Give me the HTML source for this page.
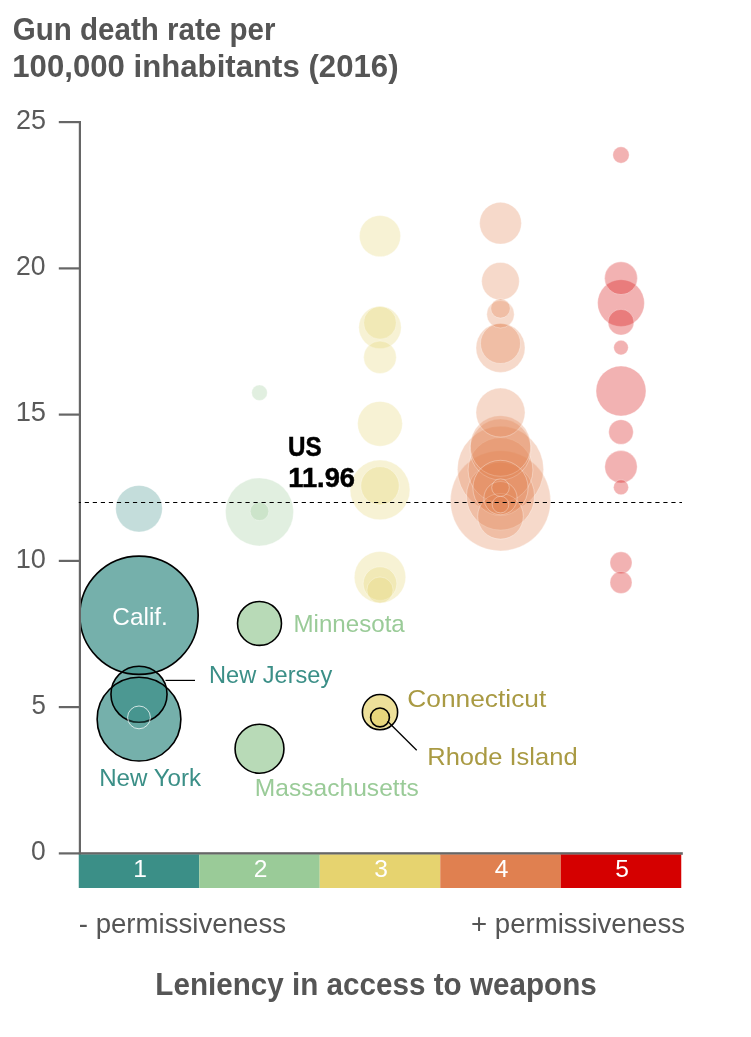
<!DOCTYPE html>
<html lang="en"><head><meta charset="utf-8"><title>Gun death rate per 100,000 inhabitants (2016)</title>
<style>
html,body{margin:0;padding:0;background:#fff}
svg{display:block}
text{font-family:"Liberation Sans",sans-serif}
.b{font-weight:bold}
</style></head><body>
<svg width="751" height="1037" viewBox="0 0 751 1037">
<rect width="751" height="1037" fill="#fff"/>
<text class="b" x="12.75" y="39.60" font-size="31.1" fill="#555" textLength="262.76" lengthAdjust="spacingAndGlyphs">Gun death rate per</text>
<text class="b" x="12.25" y="77.40" font-size="31.1" fill="#555" textLength="386.28" lengthAdjust="spacingAndGlyphs">100,000 inhabitants (2016)</text>
<circle cx="500.5" cy="500.8" r="50.1" fill="#e08050" fill-opacity="0.3" stroke="#fff" stroke-opacity="0.55" stroke-width="0.6"/>
<circle cx="500.5" cy="469.4" r="43.1" fill="#e08050" fill-opacity="0.3" stroke="#fff" stroke-opacity="0.55" stroke-width="0.6"/>
<circle cx="259.5" cy="511.9" r="34.0" fill="#9acb98" fill-opacity="0.3" stroke="#fff" stroke-opacity="0.55" stroke-width="0.6"/>
<circle cx="500.5" cy="496.1" r="34.0" fill="#e08050" fill-opacity="0.3" stroke="#fff" stroke-opacity="0.55" stroke-width="0.6"/>
<circle cx="500.5" cy="470.0" r="32.4" fill="#e08050" fill-opacity="0.3" stroke="#fff" stroke-opacity="0.55" stroke-width="0.6"/>
<circle cx="500.5" cy="449.5" r="30.5" fill="#e08050" fill-opacity="0.3" stroke="#fff" stroke-opacity="0.55" stroke-width="0.6"/>
<circle cx="500.5" cy="446.0" r="30.3" fill="#e08050" fill-opacity="0.3" stroke="#fff" stroke-opacity="0.55" stroke-width="0.6"/>
<circle cx="380.0" cy="489.9" r="29.9" fill="#e6d36f" fill-opacity="0.3" stroke="#fff" stroke-opacity="0.55" stroke-width="0.6"/>
<circle cx="500.5" cy="487.9" r="27.6" fill="#e08050" fill-opacity="0.3" stroke="#fff" stroke-opacity="0.55" stroke-width="0.6"/>
<circle cx="380.0" cy="577.2" r="25.7" fill="#e6d36f" fill-opacity="0.3" stroke="#fff" stroke-opacity="0.55" stroke-width="0.6"/>
<circle cx="621.0" cy="391.0" r="25.0" fill="#d50000" fill-opacity="0.3" stroke="#fff" stroke-opacity="0.55" stroke-width="0.6"/>
<circle cx="500.5" cy="347.9" r="24.5" fill="#e08050" fill-opacity="0.3" stroke="#fff" stroke-opacity="0.55" stroke-width="0.6"/>
<circle cx="500.5" cy="412.6" r="24.5" fill="#e08050" fill-opacity="0.3" stroke="#fff" stroke-opacity="0.55" stroke-width="0.6"/>
<circle cx="621.0" cy="303.1" r="23.4" fill="#d50000" fill-opacity="0.3" stroke="#fff" stroke-opacity="0.55" stroke-width="0.6"/>
<circle cx="139.0" cy="508.7" r="23.3" fill="#3b8f87" fill-opacity="0.3" stroke="#fff" stroke-opacity="0.55" stroke-width="0.6"/>
<circle cx="500.5" cy="516.3" r="22.8" fill="#e08050" fill-opacity="0.3" stroke="#fff" stroke-opacity="0.55" stroke-width="0.6"/>
<circle cx="380.0" cy="423.8" r="22.4" fill="#e6d36f" fill-opacity="0.3" stroke="#fff" stroke-opacity="0.55" stroke-width="0.6"/>
<circle cx="380.0" cy="327.4" r="21.2" fill="#e6d36f" fill-opacity="0.3" stroke="#fff" stroke-opacity="0.55" stroke-width="0.6"/>
<circle cx="500.5" cy="223.2" r="20.9" fill="#e08050" fill-opacity="0.3" stroke="#fff" stroke-opacity="0.55" stroke-width="0.6"/>
<circle cx="380.0" cy="236.1" r="20.6" fill="#e6d36f" fill-opacity="0.3" stroke="#fff" stroke-opacity="0.55" stroke-width="0.6"/>
<circle cx="500.5" cy="343.5" r="20.0" fill="#e08050" fill-opacity="0.3" stroke="#fff" stroke-opacity="0.55" stroke-width="0.6"/>
<circle cx="380.0" cy="485.8" r="19.2" fill="#e6d36f" fill-opacity="0.3" stroke="#fff" stroke-opacity="0.55" stroke-width="0.6"/>
<circle cx="500.5" cy="281.2" r="18.8" fill="#e08050" fill-opacity="0.3" stroke="#fff" stroke-opacity="0.55" stroke-width="0.6"/>
<circle cx="380.0" cy="583.6" r="16.8" fill="#e6d36f" fill-opacity="0.3" stroke="#fff" stroke-opacity="0.55" stroke-width="0.6"/>
<circle cx="500.5" cy="498.1" r="16.6" fill="#e08050" fill-opacity="0.3" stroke="#fff" stroke-opacity="0.55" stroke-width="0.6"/>
<circle cx="380.0" cy="322.8" r="16.4" fill="#e6d36f" fill-opacity="0.3" stroke="#fff" stroke-opacity="0.55" stroke-width="0.6"/>
<circle cx="621.0" cy="278.2" r="16.4" fill="#d50000" fill-opacity="0.3" stroke="#fff" stroke-opacity="0.55" stroke-width="0.6"/>
<circle cx="380.0" cy="357.3" r="16.3" fill="#e6d36f" fill-opacity="0.3" stroke="#fff" stroke-opacity="0.55" stroke-width="0.6"/>
<circle cx="621.0" cy="466.8" r="16.2" fill="#d50000" fill-opacity="0.3" stroke="#fff" stroke-opacity="0.55" stroke-width="0.6"/>
<circle cx="500.5" cy="314.3" r="13.7" fill="#e08050" fill-opacity="0.3" stroke="#fff" stroke-opacity="0.55" stroke-width="0.6"/>
<circle cx="380.0" cy="590.1" r="13.1" fill="#e6d36f" fill-opacity="0.3" stroke="#fff" stroke-opacity="0.55" stroke-width="0.6"/>
<circle cx="621.0" cy="322.2" r="12.9" fill="#d50000" fill-opacity="0.3" stroke="#fff" stroke-opacity="0.55" stroke-width="0.6"/>
<circle cx="621.0" cy="432.0" r="12.3" fill="#d50000" fill-opacity="0.3" stroke="#fff" stroke-opacity="0.55" stroke-width="0.6"/>
<circle cx="621.0" cy="562.8" r="11.0" fill="#d50000" fill-opacity="0.3" stroke="#fff" stroke-opacity="0.55" stroke-width="0.6"/>
<circle cx="621.0" cy="582.5" r="11.0" fill="#d50000" fill-opacity="0.3" stroke="#fff" stroke-opacity="0.55" stroke-width="0.6"/>
<circle cx="500.5" cy="308.4" r="9.7" fill="#e08050" fill-opacity="0.3" stroke="#fff" stroke-opacity="0.55" stroke-width="0.6"/>
<circle cx="259.5" cy="511.3" r="9.3" fill="#9acb98" fill-opacity="0.3" stroke="#fff" stroke-opacity="0.55" stroke-width="0.6"/>
<circle cx="500.5" cy="487.6" r="8.8" fill="#e08050" fill-opacity="0.3" stroke="#fff" stroke-opacity="0.55" stroke-width="0.6"/>
<circle cx="500.5" cy="504.6" r="8.3" fill="#e08050" fill-opacity="0.3" stroke="#fff" stroke-opacity="0.55" stroke-width="0.6"/>
<circle cx="621.0" cy="155.0" r="8.2" fill="#d50000" fill-opacity="0.3" stroke="#fff" stroke-opacity="0.55" stroke-width="0.6"/>
<circle cx="259.5" cy="392.7" r="7.8" fill="#9acb98" fill-opacity="0.3" stroke="#fff" stroke-opacity="0.55" stroke-width="0.6"/>
<circle cx="621.0" cy="487.3" r="7.5" fill="#d50000" fill-opacity="0.3" stroke="#fff" stroke-opacity="0.55" stroke-width="0.6"/>
<circle cx="621.0" cy="347.6" r="7.3" fill="#d50000" fill-opacity="0.3" stroke="#fff" stroke-opacity="0.55" stroke-width="0.6"/>
<circle cx="139.0" cy="615.25" r="59.17" fill="#3b8f87" fill-opacity="0.7"/>
<circle cx="139.0" cy="719.15" r="41.87" fill="#3b8f87" fill-opacity="0.7"/>
<circle cx="139.0" cy="694.25" r="28.05" fill="#3b8f87" fill-opacity="0.7"/>
<circle cx="259.5" cy="748.75" r="24.44" fill="#9acb98" fill-opacity="0.7"/>
<circle cx="259.5" cy="623.45" r="21.97" fill="#9acb98" fill-opacity="0.7"/>
<circle cx="380.0" cy="712.15" r="17.61" fill="#e6d36f" fill-opacity="0.7"/>
<circle cx="380.0" cy="717.45" r="9.41" fill="#e6d36f" fill-opacity="0.7"/>
<circle cx="139.0" cy="615.25" r="59.17" fill="none" stroke="#000" stroke-width="1.6"/>
<circle cx="139.0" cy="719.15" r="41.87" fill="none" stroke="#000" stroke-width="1.6"/>
<circle cx="139.0" cy="694.25" r="28.05" fill="none" stroke="#000" stroke-width="1.6"/>
<circle cx="259.5" cy="748.75" r="24.44" fill="none" stroke="#000" stroke-width="1.6"/>
<circle cx="259.5" cy="623.45" r="21.97" fill="none" stroke="#000" stroke-width="1.6"/>
<circle cx="380.0" cy="712.15" r="17.61" fill="none" stroke="#000" stroke-width="1.6"/>
<circle cx="380.0" cy="717.45" r="9.41" fill="none" stroke="#000" stroke-width="1.6"/>
<circle cx="139.0" cy="717.4" r="11.4" fill="#3b8f87" fill-opacity="0.3" stroke="#fff" stroke-opacity="0.75" stroke-width="1"/>
<rect x="78.8" y="121.1" width="2.2" height="733.5" fill="#666"/>
<rect x="58.8" y="852.3" width="22.2" height="2.2" fill="#666"/>
<text x="31.00" y="860.00" font-size="27.3" fill="#5a5a5a" textLength="14.72" lengthAdjust="spacingAndGlyphs">0</text>
<rect x="58.8" y="706.0" width="22.2" height="2.2" fill="#666"/>
<text x="31.55" y="713.75" font-size="27.3" fill="#5a5a5a" textLength="14.38" lengthAdjust="spacingAndGlyphs">5</text>
<rect x="58.8" y="559.8" width="22.2" height="2.2" fill="#666"/>
<text x="15.65" y="567.50" font-size="27.3" fill="#5a5a5a" textLength="30.20" lengthAdjust="spacingAndGlyphs">10</text>
<rect x="58.8" y="413.5" width="22.2" height="2.2" fill="#666"/>
<text x="15.65" y="421.25" font-size="27.3" fill="#5a5a5a" textLength="30.41" lengthAdjust="spacingAndGlyphs">15</text>
<rect x="58.8" y="267.3" width="22.2" height="2.2" fill="#666"/>
<text x="16.05" y="275.00" font-size="27.3" fill="#5a5a5a" textLength="29.58" lengthAdjust="spacingAndGlyphs">20</text>
<rect x="58.8" y="121.0" width="22.2" height="2.2" fill="#666"/>
<text x="16.05" y="128.75" font-size="27.3" fill="#5a5a5a" textLength="30.03" lengthAdjust="spacingAndGlyphs">25</text>
<rect x="78.8" y="852.2" width="604.0" height="2.6" fill="#666"/>
<line x1="78.8" x2="682" y1="502.55" y2="502.55" stroke="#000" stroke-width="1.1" stroke-dasharray="4.2,3.836" stroke-dashoffset="2.1"/>
<rect x="78.75" y="854.6" width="120.5" height="33.4" fill="#3b8f87"/>
<text x="140.0" y="876.7" font-size="24.6" fill="#fff" text-anchor="middle">1</text>
<rect x="199.25" y="854.6" width="120.5" height="33.4" fill="#9acb98"/>
<text x="260.5" y="876.7" font-size="24.6" fill="#fff" text-anchor="middle">2</text>
<rect x="319.75" y="854.6" width="120.5" height="33.4" fill="#e6d36f"/>
<text x="381.0" y="876.7" font-size="24.6" fill="#fff" text-anchor="middle">3</text>
<rect x="440.25" y="854.6" width="120.5" height="33.4" fill="#e08050"/>
<text x="501.5" y="876.7" font-size="24.6" fill="#fff" text-anchor="middle">4</text>
<rect x="560.75" y="854.6" width="120.5" height="33.4" fill="#d50000"/>
<text x="622.0" y="876.7" font-size="24.6" fill="#fff" text-anchor="middle">5</text>
<text class="b" stroke="#000" stroke-width="0.5" x="288.05" y="455.50" font-size="27" fill="#000" textLength="33.62" lengthAdjust="spacingAndGlyphs">US</text>
<text class="b" stroke="#000" stroke-width="0.5" x="288.25" y="487.00" font-size="27" fill="#000" textLength="66.74" lengthAdjust="spacingAndGlyphs">11.96</text>
<text x="112.30" y="624.50" font-size="24.8" fill="#fff" textLength="55.56" lengthAdjust="spacingAndGlyphs">Calif.</text>
<text x="209.10" y="682.80" font-size="24.8" fill="#3b8f87" textLength="123.17" lengthAdjust="spacingAndGlyphs">New Jersey</text>
<text x="99.15" y="786.00" font-size="24.8" fill="#3b8f87" textLength="101.92" lengthAdjust="spacingAndGlyphs">New York</text>
<text x="293.50" y="632.40" font-size="24.8" fill="#9acb98" textLength="111.28" lengthAdjust="spacingAndGlyphs">Minnesota</text>
<text x="254.85" y="795.70" font-size="24.8" fill="#9acb98" textLength="163.93" lengthAdjust="spacingAndGlyphs">Massachusetts</text>
<text x="407.25" y="706.60" font-size="24.8" fill="#a99a43" textLength="139.02" lengthAdjust="spacingAndGlyphs">Connecticut</text>
<text x="427.25" y="764.50" font-size="24.8" fill="#a99a43" textLength="150.36" lengthAdjust="spacingAndGlyphs">Rhode Island</text>
<text x="78.75" y="932.90" font-size="26.9" fill="#555" textLength="207.27" lengthAdjust="spacingAndGlyphs">- permissiveness</text>
<text x="471.00" y="932.90" font-size="26.9" fill="#555" textLength="214.03" lengthAdjust="spacingAndGlyphs">+ permissiveness</text>
<text class="b" x="155.30" y="994.70" font-size="31.1" fill="#555" textLength="441.47" lengthAdjust="spacingAndGlyphs">Leniency in access to weapons</text>
<line x1="165.5" y1="680.4" x2="195" y2="680.4" stroke="#000" stroke-width="1.2"/>
<line x1="387.5" y1="721.3" x2="416.7" y2="750.2" stroke="#000" stroke-width="1.3"/>
</svg>
</body></html>
